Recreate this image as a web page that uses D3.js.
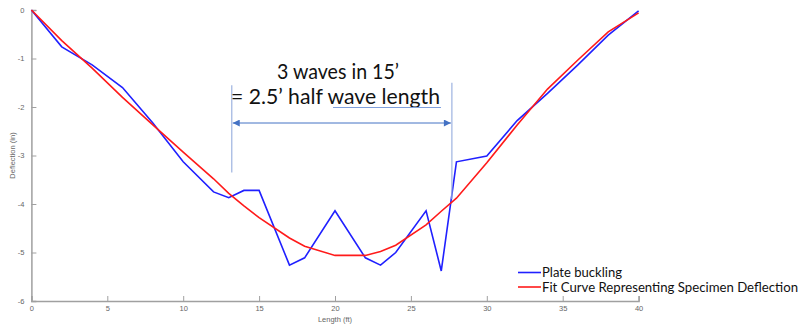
<!DOCTYPE html>
<html>
<head>
<meta charset="utf-8">
<script src="https://cdn.jsdelivr.net/npm/d3@7"></script>
<style>
  body { margin: 0; background: #fff; }
  svg { display: block; }
</style>
</head>
<body>
<div id="chart"></div>
<script>
// data
const lengthFt   = [0, 2, 4, 6, 8, 10, 12, 13, 14, 15, 17, 18, 20, 22, 23, 24, 26, 27, 28, 30, 32, 34, 36, 38, 40];
const buckling   = [0, -0.76, -1.13, -1.6, -2.33, -3.13, -3.75, -3.87, -3.72, -3.72, -5.26, -5.11, -4.14, -5.11, -5.26, -5.0, -4.14, -5.38, -3.13, -3.01, -2.28, -1.72, -1.13, -0.52, -0.02];
const fitCurve   = [0, -0.63, -1.2, -1.8, -2.37, -2.93, -3.48, -3.78, -4.04, -4.28, -4.7, -4.87, -5.06, -5.06, -4.98, -4.85, -4.43, -4.15, -3.88, -3.15, -2.37, -1.63, -1.03, -0.45, -0.06];
const xTicks = [0, 5, 10, 15, 20, 25, 30, 35, 40];
const yTicks = [0, -1, -2, -3, -4, -5, -6];
const legendLabels = ['Plate buckling', 'Fit Curve Representing Specimen Deflection'];
const noteLines = ['3 waves in 15\u2019', '= 2.5\u2019 half wave length'];
// annotation span (ft)
const spanFt = [13.2, 27.7];

const width = 801, height = 324;
const x = d3.scaleLinear().domain([0, 40]).range([31.4, 638.6]);
const y = d3.scaleLinear().domain([-6, 0]).range([301, 10]);

const svg = d3.select('#chart').append('svg')
    .attr('width', width)
    .attr('height', height);

svg.append('rect').attr('width', width).attr('height', height).attr('fill', '#fff');

// axes (ticks point inward like matlab)
const axisColor = '#a0a0a0';
const gx = svg.append('g')
    .attr('transform', `translate(0,${y(-6)})`)
    .call(d3.axisBottom(x).tickValues(xTicks).tickSize(-5).tickPadding(5).tickFormat(d3.format('d')));
const gy = svg.append('g')
    .attr('transform', `translate(${x(0)},0)`)
    .call(d3.axisLeft(y).tickValues(yTicks).tickSize(-5).tickPadding(7).tickFormat(d3.format('d')));

[gx, gy].forEach(g => {
    g.select('.domain').attr('stroke', axisColor).attr('stroke-width', 1.5);
    g.selectAll('.tick line').attr('stroke', axisColor);
    g.selectAll('.tick text')
        .attr('fill', '#666')
        .style('font-family', 'Liberation Sans, Arial, sans-serif')
        .style('font-size', '7.5px');
});
gy.selectAll('.tick text').text(d => d === 0 ? '0' : '-' + Math.abs(d));

svg.append('text')
    .attr('x', x(20)).attr('y', 321.5)
    .attr('text-anchor', 'middle')
    .attr('fill', '#666')
    .style('font-family', 'Liberation Sans, Arial, sans-serif')
    .style('font-size', '7.5px')
    .text('Length (ft)');

svg.append('text')
    .attr('transform', `translate(15,${y(-3)}) rotate(-90)`)
    .attr('text-anchor', 'middle')
    .attr('fill', '#666')
    .style('font-family', 'Liberation Sans, Arial, sans-serif')
    .style('font-size', '7.5px')
    .text('Deflection (in)');

// series
const pts = (vals) => lengthFt.map((d, i) => [d, vals[i]]);
const line = d3.line().x(d => x(d[0])).y(d => y(d[1]));

svg.append('path')
    .datum(pts(buckling))
    .attr('fill', 'none')
    .attr('stroke', '#2020ff')
    .attr('stroke-width', 1.6)
    .attr('d', line);

svg.append('path')
    .datum(pts(fitCurve))
    .attr('fill', 'none')
    .attr('stroke', '#ff1a1a')
    .attr('stroke-width', 1.6)
    .attr('d', line);

// annotation
const defs = svg.append('defs');
['start', 'end'].forEach(k => {
    defs.append('marker')
        .attr('id', 'arr-' + k)
        .attr('viewBox', '0 0 10 10')
        .attr('refX', k === 'end' ? 10 : 0).attr('refY', 5)
        .attr('markerWidth', 9).attr('markerHeight', 7)
        .attr('markerUnits', 'userSpaceOnUse')
        .attr('orient', 'auto')
        .append('path')
        .attr('d', k === 'end' ? 'M0,0 L10,5 L0,10 Z' : 'M10,0 L0,5 L10,10 Z')
        .attr('fill', '#4472c4');
});

svg.append('line')
    .attr('x1', x(spanFt[0])).attr('x2', x(spanFt[0]))
    .attr('y1', y(-1.55)).attr('y2', y(-3.35))
    .attr('stroke', '#9db3e0').attr('stroke-width', 1.2);
svg.append('line')
    .attr('x1', x(spanFt[1])).attr('x2', x(spanFt[1]))
    .attr('y1', y(-1.5)).attr('y2', y(-3.9))
    .attr('stroke', '#9db3e0').attr('stroke-width', 1.2);
svg.append('line')
    .attr('x1', x(spanFt[0]) + 1).attr('x2', x(spanFt[1]) - 1)
    .attr('y1', y(-2.33)).attr('y2', y(-2.33))
    .attr('stroke', '#4472c4').attr('stroke-width', 1)
    .attr('marker-start', 'url(#arr-start)')
    .attr('marker-end', 'url(#arr-end)');

const noteFont = 'Lato, "Open Sans", sans-serif';
svg.append('text')
    .attr('x', 338).attr('y', 79)
    .attr('text-anchor', 'middle')
    .attr('fill', '#111')
    .attr('textLength', 122).attr('lengthAdjust', 'spacingAndGlyphs')
    .style('font-family', noteFont).style('font-size', '21px')
    .text(noteLines[0]);
svg.append('text')
    .attr('x', 231).attr('y', 104)
    .attr('fill', '#111')
    .attr('textLength', 209).attr('lengthAdjust', 'spacingAndGlyphs')
    .style('font-family', noteFont).style('font-size', '21px')
    .text(noteLines[1]);
// spell-check style underline under "wave length"
svg.append('line')
    .attr('x1', 333).attr('x2', 441)
    .attr('y1', 107.5).attr('y2', 107.5)
    .attr('stroke', '#7f9fdc').attr('stroke-width', 1.2);

// legend
const legendColors = ['#2020ff', '#ff1a1a'];
const legendLen = [80, 256];
const lg = svg.append('g');
legendLabels.forEach((lab, i) => {
    const ly = 272.5 + i * 14.5;
    lg.append('line')
        .attr('x1', 518).attr('x2', 541)
        .attr('y1', ly).attr('y2', ly)
        .attr('stroke', legendColors[i]).attr('stroke-width', 1.6);
    lg.append('text')
        .attr('x', 542).attr('y', ly + 4.5)
        .attr('fill', '#111')
        .attr('textLength', legendLen[i]).attr('lengthAdjust', 'spacingAndGlyphs')
        .style('font-family', noteFont).style('font-size', '13px')
        .text(lab);
});
</script>
</body>
</html>
